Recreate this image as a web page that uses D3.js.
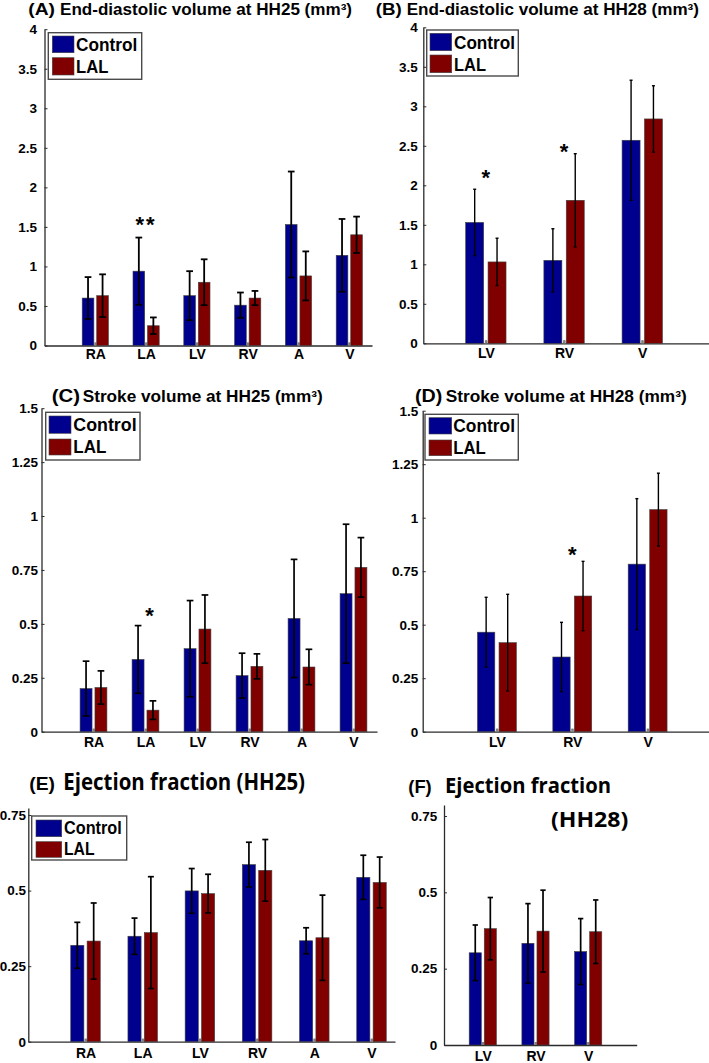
<!DOCTYPE html>
<html><head><meta charset="utf-8">
<script src="https://cdn.jsdelivr.net/npm/d3@7"></script>
<style>
body{margin:0;background:#fff}
svg{display:block}
text{font-family:"Liberation Sans",Arial,sans-serif;font-weight:bold;fill:#000}
</style>
</head><body><svg id="c" width="709" height="1063"></svg>
<script>
// ---------------- DATA ----------------
const categories25 = ["RA","LA","LV","RV","A","V"];
const categories28 = ["LV","RV","V"];
const seriesNames = ["Control","LAL"];

const edv25Control = [0.60,0.94,0.63,0.51,1.53,1.14];
const edv25ControlErr = [0.265,0.425,0.31,0.16,0.67,0.46];
const edv25LAL = [0.63,0.25,0.80,0.60,0.88,1.40];
const edv25LALErr = [0.27,0.105,0.29,0.09,0.31,0.23];

const edv28Control = [1.53,1.05,2.57];
const edv28ControlErr = [0.42,0.40,0.76];
const edv28LAL = [1.03,1.81,2.84];
const edv28LALErr = [0.30,0.59,0.42];

const sv25Control = [0.20,0.335,0.385,0.26,0.525,0.64];
const sv25ControlErr = [0.127,0.157,0.223,0.104,0.274,0.322];
const sv25LAL = [0.205,0.10,0.476,0.303,0.30,0.762];
const sv25LALErr = [0.077,0.043,0.158,0.058,0.082,0.138];

const sv28Control = [0.465,0.349,0.783];
const sv28ControlErr = [0.163,0.162,0.306];
const sv28LAL = [0.416,0.634,1.038];
const sv28LALErr = [0.226,0.162,0.17];

const ef25Control = [0.319,0.349,0.499,0.586,0.334,0.544];
const ef25ControlErr = [0.076,0.06,0.074,0.074,0.043,0.073];
const ef25LAL = [0.333,0.361,0.49,0.567,0.344,0.527];
const ef25LALErr = [0.126,0.185,0.064,0.102,0.141,0.084];

const ef28Control = [0.302,0.333,0.306];
const ef28ControlErr = [0.091,0.13,0.108];
const ef28LAL = [0.381,0.373,0.371];
const ef28LALErr = [0.102,0.134,0.104];

const edvTicks = [0,0.5,1,1.5,2,2.5,3,3.5,4];
const edvTickLabels = ["0","0.5","1","1.5","2","2.5","3","3.5","4"];
const svTicks = [0,0.25,0.5,0.75,1,1.25,1.5];
const svTickLabels = ["0","0.25","0.5","0.75","1","1.25","1.5"];
const efTicks = [0,0.25,0.5,0.75];
const efTickLabels = ["0","0.25","0.5","0.75"];

// significance marks: [panel, category index (1-based), y value, label]
const sigPanel = ["A","B","B","C","D"];
const sigCat = [2,1,2,2,2];
const sigY = [1.59,2.16,2.49,0.56,0.85];
const sigLabel = ["**","*","*","*","*"];

// ---------------- LAYOUT ----------------
const BLUE = "#00008f", RED = "#800000";
const BW = 0.23, OFF = 0.143;
const svg = d3.select("#c");

const panels = {
  A:{cats:categories25, c:edv25Control, ce:edv25ControlErr, l:edv25LAL, le:edv25LALErr, ticks:edvTicks, tl:edvTickLabels,
     left:44.5, right:372, x0:0, unit:50.8, bottom:345.5, top:29.2, ymax:4, pad:7.5, xpad:4, cap:6.7, ew:1.8,
     legend:{box:[48.3,32.7,141.7,79.3], sx:[52.3,74], b:[36,52.7], r:[57.7,75], tx:76, by:[50.7,72.7], w:61.3, lw:32.3},
     title:{p:"(A)", px:28.3, pw:26.7, m:"End-diastolic volume at HH25 (mm³)", mx:60, mw:292, y:14.6, fp:16, fm:16}},
  B:{cats:categories28, c:edv28Control, ce:edv28ControlErr, l:edv28LAL, le:edv28LALErr, ticks:edvTicks, tl:edvTickLabels,
     left:423.3, right:709, x0:0.2, unit:78.2, bottom:343.3, top:27.3, ymax:4, pad:5.6, xpad:4.5, cap:3, ew:1.4,
     legend:{box:[426.7,30,518.3,76], sx:[430,451.7], b:[33.3,50.7], r:[55,72.7], tx:454, by:[49.3,71], w:61, lw:32},
     title:{p:"(B)", px:375.7, pw:26, m:"End-diastolic volume at HH28 (mm³)", mx:406.7, mw:292.3, y:14.6, fp:16, fm:16}},
  C:{cats:categories25, c:sv25Control, ce:sv25ControlErr, l:sv25LAL, le:sv25LALErr, ticks:svTicks, tl:svTickLabels,
     left:41.5, right:377, x0:0, unit:52, bottom:731.7, top:408.2, ymax:1.5, pad:3.4, xpad:5, cap:6.7, ew:1.7,
     legend:{box:[45.7,412.3,140,460], sx:[49,71], b:[416,433.3], r:[439,455], tx:73.3, by:[431,453.3], w:63.3, lw:33},
     title:{p:"(C)", px:51.7, pw:28.3, m:"Stroke volume at HH25 (mm³)", mx:82.7, mw:240, y:401.7, fp:18, fm:16.5}},
  D:{cats:categories28, c:sv28Control, ce:sv28ControlErr, l:sv28LAL, le:sv28LALErr, ticks:svTicks, tl:svTickLabels,
     left:422.7, right:709, x0:0.015, unit:75.35, bottom:731.7, top:410.7, ymax:1.5, pad:4.4, xpad:5, cap:3, ew:1.4,
     legend:{box:[425,414.3,518.3,460], sx:[429,451.7], b:[417.7,434], r:[440,455.7], tx:453.3, by:[432.3,454.3], w:61.7, lw:32.5},
     title:{p:"(D)", px:415, pw:27.3, m:"Stroke volume at HH28 (mm³)", mx:445.7, mw:241, y:401.7, fp:18, fm:16.5}},
  E:{cats:categories25, c:ef25Control, ce:ef25ControlErr, l:ef25LAL, le:ef25LALErr, ticks:efTicks, tl:efTickLabels,
     left:28.3, right:395, x0:0, unit:57.2, bottom:1041.7, top:808, ymax:0.7733, pad:2.3, xpad:6.5, cap:6, ew:1.7,
     legend:{box:[31.7,816,126.7,860], sx:[36,61.7], b:[820,836.7], r:[841.7,857.3], tx:64, by:[834,855], w:57.7, lw:30.5}},
  F:{cats:categories28, c:ef28Control, ce:ef28ControlErr, l:ef28LAL, le:ef28LALErr, ticks:efTicks, tl:efTickLabels,
     left:444, right:636.7, x0:0.264, unit:52.7, bottom:1045, top:805, ymax:0.786, pad:6.7, xpad:6.5, cap:5.3, ew:1.7}
};

function fitW(sel, w){
  sel.attr("textLength", w).attr("lengthAdjust","spacingAndGlyphs");
}

Object.entries(panels).forEach(([key,cfg])=>{
  const x = d3.scaleLinear().domain([cfg.x0, cfg.x0 + (cfg.right-cfg.left)/cfg.unit]).range([cfg.left, cfg.right]);
  const y = d3.scaleLinear().domain([0, cfg.ymax]).range([cfg.bottom, cfg.top]);
  const g = svg.append("g");
  const bw = x(BW) - x(0);

  // axes
  const ya = g.append("g").attr("transform",`translate(${cfg.left},0)`)
    .call(d3.axisLeft(y).tickValues(cfg.ticks).tickFormat((d,i)=>cfg.tl[i]).tickSizeInner(-3).tickSizeOuter(0).tickPadding(cfg.pad));
  ya.select(".domain").attr("stroke","#2b2b2b").attr("stroke-width",1.3);
  ya.selectAll(".tick line").attr("stroke","#2b2b2b").attr("stroke-width",1);
  ya.selectAll(".tick text").attr("font-family","Liberation Sans, Arial, sans-serif").attr("font-weight","bold").attr("font-size",13.5).attr("fill","#111");

  const xa = g.append("g").attr("transform",`translate(0,${cfg.bottom})`)
    .call(d3.axisBottom(x).tickValues(cfg.cats.map((c,i)=>i+1)).tickFormat((d,i)=>cfg.cats[i]).tickSizeInner(-3).tickSizeOuter(0).tickPadding(cfg.xpad));
  xa.select(".domain").attr("stroke","#2b2b2b").attr("stroke-width",1.3);
  xa.selectAll(".tick line").attr("stroke","#808080").attr("stroke-width",2);
  xa.selectAll(".tick text").attr("font-family","Liberation Sans, Arial, sans-serif").attr("font-weight","bold").attr("font-size",14).attr("fill","#111");

  // bars & error bars
  const series = [{v:cfg.c, e:cfg.ce, col:BLUE, off:-OFF},{v:cfg.l, e:cfg.le, col:RED, off:OFF}];
  const bars = g.append("g");
  series.forEach(s=>{
    s.v.forEach((v,i)=>{
      const cx = x(i+1+s.off);
      bars.append("rect").attr("x", cx-bw/2).attr("width", bw).attr("y", y(v)).attr("height", y(0)-y(v))
        .attr("fill", s.col).attr("stroke","#404040").attr("stroke-width",0.6);
    });
  });
  cfg.cats.forEach((c,i)=>{
    g.append("line").attr("x1",x(i+1)).attr("x2",x(i+1)).attr("y1",cfg.bottom).attr("y2",cfg.bottom-3)
      .attr("stroke","#808080").attr("stroke-width",2);
  });
  series.forEach(s=>{
    s.v.forEach((v,i)=>{
      const cx = x(i+1+s.off);
      const y1 = y(v+s.e[i]), y2 = y(v-s.e[i]);
      const eg = g.append("g").attr("stroke","#000").attr("stroke-width",cfg.ew);
      eg.append("line").attr("x1",cx).attr("x2",cx).attr("y1",y1).attr("y2",y2);
      eg.append("line").attr("x1",cx-cfg.cap/2).attr("x2",cx+cfg.cap/2).attr("y1",y1).attr("y2",y1);
      eg.append("line").attr("x1",cx-cfg.cap/2).attr("x2",cx+cfg.cap/2).attr("y1",y2).attr("y2",y2);
    });
  });

  // significance
  sigPanel.forEach((p,k)=>{
    if(p!==key) return;
    const fs = 22;
    g.append("text").attr("x", x(sigCat[k]) + (key==="C"?4:0)).attr("y", y(sigY[k]) + 0.56*fs)
      .attr("text-anchor","middle").attr("font-size",fs).attr("letter-spacing", sigLabel[k].length>1?2:0)
      .text(sigLabel[k]);
  });

  // legend
  if(cfg.legend){
    const L = cfg.legend;
    g.append("rect").attr("x",L.box[0]).attr("y",L.box[1]).attr("width",L.box[2]-L.box[0]).attr("height",L.box[3]-L.box[1])
      .attr("fill","#fff").attr("stroke","#4a4a4a").attr("stroke-width",1.4);
    g.append("rect").attr("x",L.sx[0]).attr("y",L.b[0]).attr("width",L.sx[1]-L.sx[0]).attr("height",L.b[1]-L.b[0])
      .attr("fill",BLUE).attr("stroke","#404040").attr("stroke-width",0.6);
    g.append("rect").attr("x",L.sx[0]).attr("y",L.r[0]).attr("width",L.sx[1]-L.sx[0]).attr("height",L.r[1]-L.r[0])
      .attr("fill",RED).attr("stroke","#404040").attr("stroke-width",0.6);
    fitW(g.append("text").attr("x",L.tx).attr("y",L.by[0]).attr("font-size",17.5).text(seriesNames[0]), L.w);
    fitW(g.append("text").attr("x",L.tx).attr("y",L.by[1]).attr("font-size",17.5).text(seriesNames[1]), L.lw);
  }

  // titles
  if(cfg.title){
    const T = cfg.title;
    fitW(g.append("text").attr("x",T.px).attr("y",T.y).attr("font-size",T.fp).text(T.p), T.pw);
    fitW(g.append("text").attr("x",T.mx).attr("y",T.y).attr("font-size",T.fm).text(T.m), T.mw);
  }
});

// Titles for ejection fraction panels (different font)
const tg = svg.append("g");
fitW(tg.append("text").attr("x",29.3).attr("y",790).attr("font-size",18).text("(E)"), 25.7);
fitW(tg.append("text").attr("x",63.3).attr("y",790).attr("font-size",22.5)
  .style("font-family","'Open Sans', sans-serif").attr("font-weight",700).text("Ejection fraction (HH25)"), 241.7);
fitW(tg.append("text").attr("x",408.3).attr("y",793.3).attr("font-size",18).text("(F)"), 23.4);
fitW(tg.append("text").attr("x",445).attr("y",793.3).attr("font-size",21.5)
  .style("font-family","'Open Sans', sans-serif").attr("font-weight",700).text("Ejection fraction"), 166);
fitW(tg.append("text").attr("x",551).attr("y",826.7).attr("font-size",21.5)
  .style("font-family","'Open Sans', sans-serif").attr("font-weight",700).text("(HH28)"), 77.3);
</script>
</body></html>
